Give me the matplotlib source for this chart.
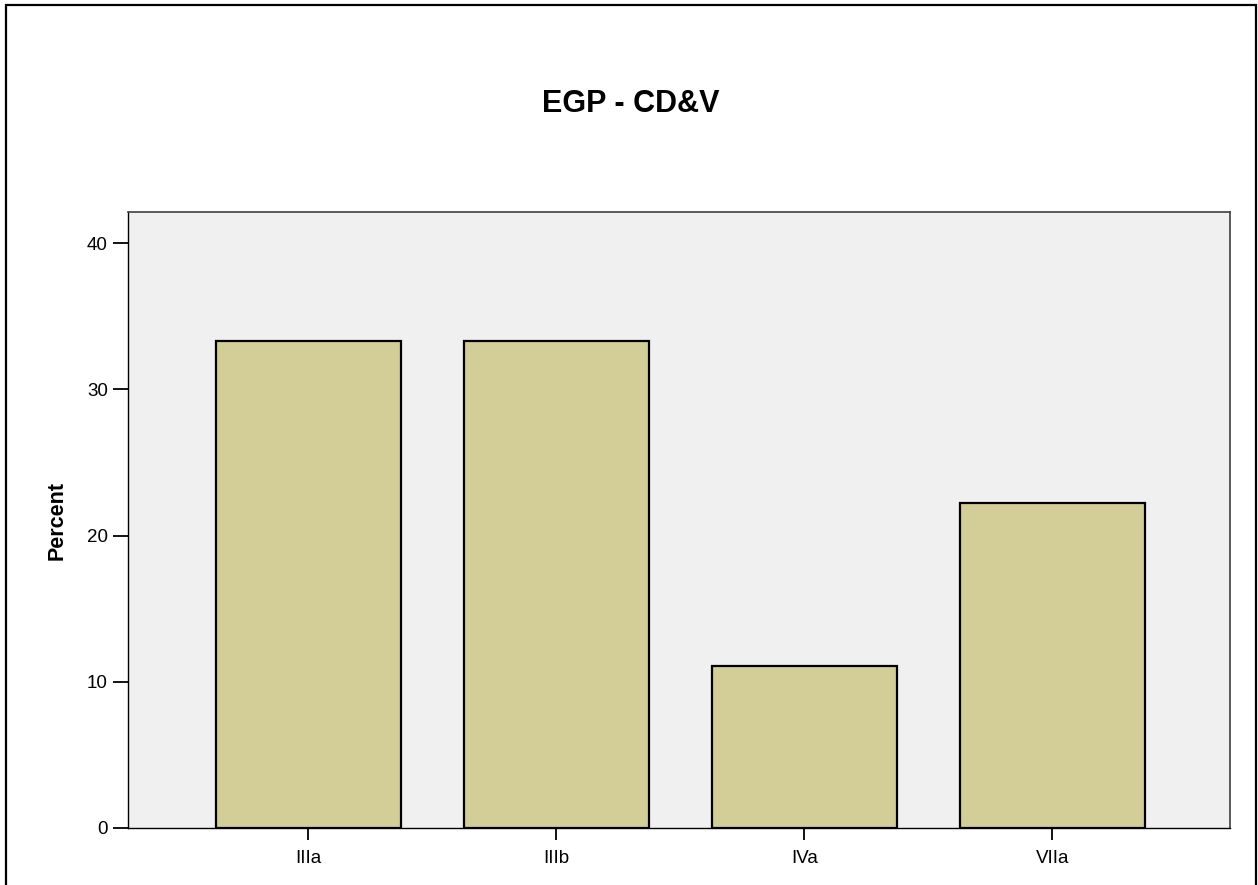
import matplotlib
matplotlib.use('Agg')
import matplotlib.pyplot as plt
from matplotlib.patches import Rectangle

plt.rcParams['font.family'] = ['Liberation Sans', 'DejaVu Sans']

categories = ['IIIa', 'IIIb', 'IVa', 'VIIa']
percent = [33.33, 33.33, 11.11, 22.22]

W, H = 1258, 885
fig = plt.figure(figsize=(W / 100, H / 100), dpi=100)
ax = fig.add_axes([128 / W, 1 - 828 / H, (1230 - 128) / W, (828 - 212) / H])

ax.set_facecolor('#f0f0f0')
ax.bar(range(len(categories)), percent, width=0.746, color='#d3ce97',
       edgecolor='black', linewidth=1.6)

ax.set_xlim(-0.727, 3.717)
ax.set_ylim(0, 42.12)
ax.set_yticks([0, 10, 20, 30, 40])
ax.set_xticks(range(len(categories)))
ax.set_xticklabels(categories)

ax.tick_params(axis='y', direction='out', length=11, width=1.3, pad=3.5, labelsize=13.5)
ax.tick_params(axis='x', direction='out', length=8.5, width=1.3, pad=7, labelsize=13.5)

for s in ['left', 'bottom']:
    ax.spines[s].set_color('black')
    ax.spines[s].set_linewidth(1.0)
for s in ['top', 'right']:
    ax.spines[s].set_color('#404040')
    ax.spines[s].set_linewidth(1.2)

ax.set_ylabel('Percent', fontsize=15.5, fontweight='bold', labelpad=14)
fig.text(631 / W, 1 - 104 / H, 'EGP - CD&V', ha='center', va='center',
         fontsize=22, fontweight='bold')

# outer frame
fig.patches.append(Rectangle((6 / W, -0.01), (1256 - 6) / W, 1.01 - 5 / H,
                             transform=fig.transFigure, fill=False,
                             edgecolor='black', linewidth=1.6))

fig.savefig('out.png', dpi=100, facecolor='white')
